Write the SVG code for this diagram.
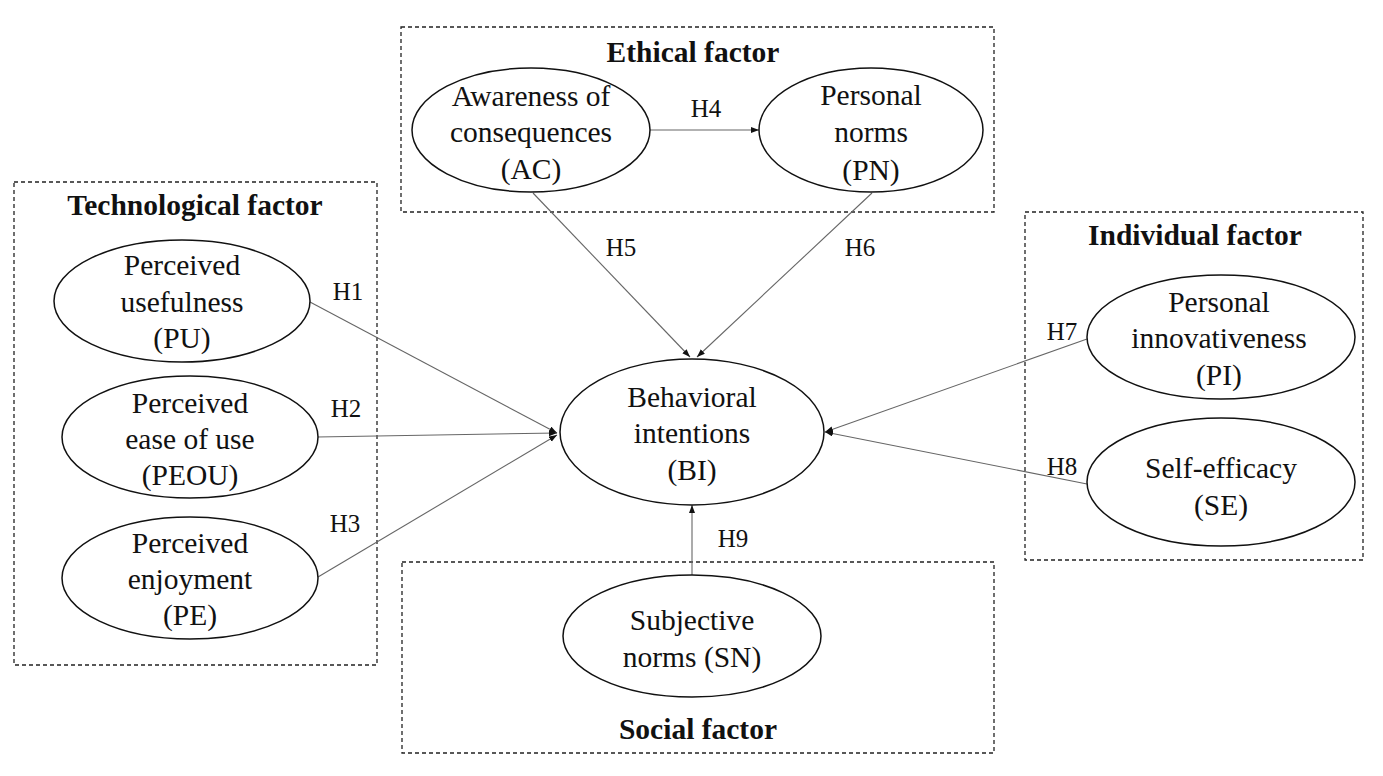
<svg xmlns="http://www.w3.org/2000/svg" width="1383" height="776" viewBox="0 0 1383 776">
<style>
.box{fill:none;stroke:#222;stroke-width:1.3;stroke-dasharray:4 3}
.node{fill:#fff;stroke:#111;stroke-width:1.5}
.t{font-family:"Liberation Serif","Times New Roman",serif;font-size:29.5px;fill:#111;text-anchor:middle}
.title{font-family:"Liberation Serif","Times New Roman",serif;font-size:29.5px;font-weight:bold;fill:#111;text-anchor:middle}
.h{font-family:"Liberation Serif","Times New Roman",serif;font-size:25px;fill:#111;text-anchor:middle}
.edge{stroke:#666;stroke-width:1.1;fill:none;marker-end:url(#arr)}
</style>
<defs>
<marker id="arr" markerUnits="userSpaceOnUse" markerWidth="9" markerHeight="7" refX="8" refY="3" orient="auto">
<path d="M0,0 L8,3 L0,6 z" fill="#111"/>
</marker>
</defs>
<rect width="1383" height="776" fill="#fff"/>
<g id="groups">
<g id="tech-factor"><rect class="box" x="14" y="182" width="363" height="483"/><text class="title" x="195" y="215">Technological factor</text></g>
<g id="ethical-factor"><rect class="box" x="401" y="27" width="593" height="185"/><text class="title" x="693" y="62">Ethical factor</text></g>
<g id="individual-factor"><rect class="box" x="1025" y="212" width="338" height="348"/><text class="title" x="1195" y="245">Individual factor</text></g>
<g id="social-factor"><rect class="box" x="402" y="562" width="592" height="191"/><text class="title" x="698" y="739">Social factor</text></g>
</g>
<g id="connectors">
<line class="edge" x1="310" y1="302" x2="557" y2="433"/>
<line class="edge" x1="317" y1="437" x2="557" y2="433"/>
<line class="edge" x1="318" y1="577" x2="557" y2="435"/>
<line class="edge" x1="650" y1="130" x2="759" y2="130"/>
<line class="edge" x1="533" y1="193" x2="690" y2="357"/>
<line class="edge" x1="872" y1="193" x2="697" y2="357"/>
<line class="edge" x1="1087" y1="339" x2="825" y2="432"/>
<line class="edge" x1="1087" y1="484" x2="825" y2="432"/>
<line class="edge" x1="692" y1="575" x2="692" y2="505"/>
<text class="h" x="348" y="300">H1</text>
<text class="h" x="346" y="417">H2</text>
<text class="h" x="345" y="532">H3</text>
<text class="h" x="706" y="117">H4</text>
<text class="h" x="621" y="256">H5</text>
<text class="h" x="860" y="256">H6</text>
<text class="h" x="1062" y="340">H7</text>
<text class="h" x="1062" y="475">H8</text>
<text class="h" x="733" y="547">H9</text>
</g>
<g id="AC"><ellipse class="node" cx="531" cy="130" rx="119" ry="62"/><text class="t" x="531" y="106">Awareness of</text><text class="t" x="531" y="142">consequences</text><text class="t" x="531" y="179">(AC)</text></g>
<g id="PN"><ellipse class="node" cx="871" cy="130" rx="112" ry="62"/><text class="t" x="871" y="105">Personal</text><text class="t" x="871" y="142">norms</text><text class="t" x="871" y="180">(PN)</text></g>
<g id="PU"><ellipse class="node" cx="182" cy="301" rx="128" ry="61"/><text class="t" x="182" y="275">Perceived</text><text class="t" x="182" y="312">usefulness</text><text class="t" x="182" y="348">(PU)</text></g>
<g id="PEOU"><ellipse class="node" cx="190" cy="437" rx="128" ry="61"/><text class="t" x="190" y="413">Perceived</text><text class="t" x="190" y="449">ease of use</text><text class="t" x="190" y="485">(PEOU)</text></g>
<g id="PE"><ellipse class="node" cx="190" cy="578" rx="128" ry="61"/><text class="t" x="190" y="553">Perceived</text><text class="t" x="190" y="589">enjoyment</text><text class="t" x="190" y="625">(PE)</text></g>
<g id="BI"><ellipse class="node" cx="692" cy="432" rx="132" ry="73"/><text class="t" x="692" y="407">Behavioral</text><text class="t" x="692" y="443">intentions</text><text class="t" x="692" y="480">(BI)</text></g>
<g id="PI"><ellipse class="node" cx="1221" cy="337" rx="134" ry="62"/><text class="t" x="1219" y="312">Personal</text><text class="t" x="1219" y="348">innovativeness</text><text class="t" x="1219" y="385">(PI)</text></g>
<g id="SE"><ellipse class="node" cx="1221" cy="482" rx="134" ry="64"/><text class="t" x="1221" y="478">Self-efficacy</text><text class="t" x="1221" y="515">(SE)</text></g>
<g id="SN"><ellipse class="node" cx="692" cy="636" rx="129" ry="61"/><text class="t" x="692" y="630">Subjective</text><text class="t" x="692" y="667">norms (SN)</text></g>
</svg>
